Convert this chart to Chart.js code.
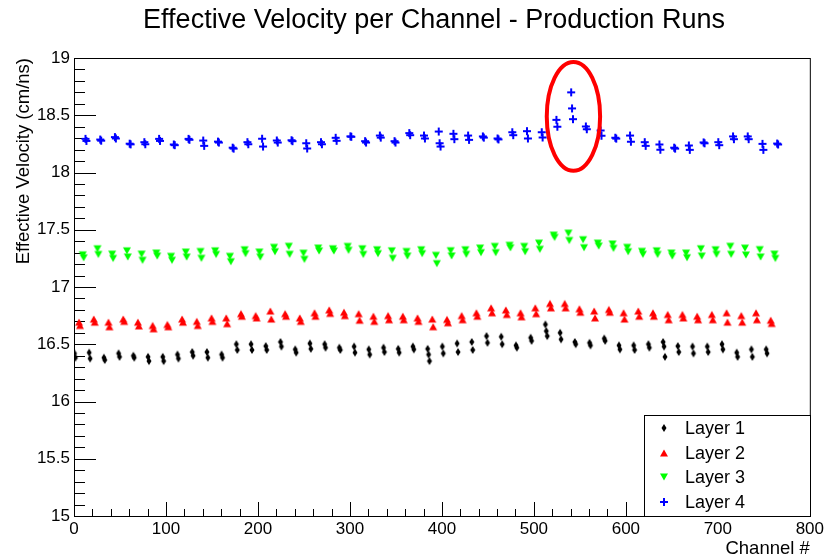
<!DOCTYPE html>
<html>
<head>
<meta charset="utf-8">
<title>Effective Velocity per Channel</title>
<script src="https://cdn.jsdelivr.net/npm/chart.js@4.4.1/dist/chart.umd.min.js"></script>
<style>
  html, body { margin: 0; padding: 0; background: #fff; }
  #wrap { width: 827px; height: 560px; }
</style>
</head>
<body>
<div id="wrap"><canvas id="velChart" width="827" height="560"></canvas></div>
<script>
// first channel of each group of 16
const channelGroups = [0, 16, 32, 48, 64, 80, 96, 112, 128, 144, 160, 176, 192, 208, 224, 240,
    256, 272, 288, 304, 320, 336, 352, 368, 384, 400, 416, 432, 448, 464, 480, 496,
    512, 528, 544, 560, 576, 592, 608, 624, 640, 656, 672, 688, 704, 720, 736, 752];

const layerNames = ['Layer 1', 'Layer 2', 'Layer 3', 'Layer 4'];
const layerOffsets = [0.5, 5.5, 9.5, 12.5];

// effective velocity (cm/ns), one list of runs per channel group
const layer1 = [
    [16.42, 16.383], [16.427, 16.375], [16.383, 16.362], [16.42, 16.39], [16.40, 16.383],
    [16.39, 16.353], [16.39, 16.353], [16.41, 16.375], [16.432, 16.40], [16.432, 16.383],
    [16.41, 16.383], [16.50, 16.45], [16.50, 16.45], [16.484, 16.45], [16.52, 16.48],
    [16.455, 16.427], [16.507, 16.46], [16.50, 16.47], [16.47, 16.45], [16.48, 16.427],
    [16.455, 16.41], [16.47, 16.432], [16.46, 16.427], [16.48, 16.455], [16.46, 16.41, 16.353],
    [16.48, 16.42], [16.507, 16.432], [16.52, 16.45], [16.571, 16.513], [16.566, 16.50],
    [16.49, 16.47], [16.557, 16.53], [16.673, 16.615, 16.571], [16.60, 16.543], [16.52, 16.50],
    [16.513, 16.49], [16.55, 16.53], [16.49, 16.455], [16.49, 16.45], [16.50, 16.47],
    [16.52, 16.48, 16.39], [16.484, 16.432], [16.48, 16.42], [16.48, 16.432], [16.50, 16.455],
    [16.427, 16.39], [16.455, 16.39], [16.455, 16.42]
];
const layer2 = [
    [16.693, 16.664], [16.72, 16.693], [16.693, 16.653], [16.72, 16.70], [16.693, 16.66],
    [16.664, 16.635], [16.673, 16.653], [16.72, 16.693], [16.70, 16.664], [16.73, 16.70],
    [16.73, 16.68], [16.767, 16.745], [16.75, 16.73], [16.79, 16.72], [16.767, 16.745],
    [16.73, 16.70], [16.775, 16.745], [16.80, 16.77], [16.78, 16.75], [16.767, 16.71],
    [16.745, 16.70], [16.75, 16.714], [16.745, 16.714], [16.73, 16.70], [16.72, 16.653],
    [16.717, 16.688], [16.75, 16.714], [16.775, 16.745], [16.818, 16.775], [16.80, 16.76],
    [16.775, 16.74], [16.818, 16.767], [16.856, 16.818], [16.856, 16.818], [16.81, 16.78],
    [16.79, 16.73], [16.804, 16.78], [16.775, 16.72], [16.79, 16.745], [16.775, 16.745],
    [16.76, 16.714], [16.76, 16.73], [16.745, 16.714], [16.76, 16.714], [16.775, 16.693],
    [16.75, 16.693], [16.775, 16.714], [16.71, 16.682]
];
const layer3 = [
    [17.281, 17.255], [17.334, 17.284], [17.287, 17.249], [17.316, 17.262], [17.287, 17.233],
    [17.296, 17.27], [17.267, 17.233], [17.305, 17.261], [17.31, 17.25], [17.316, 17.284],
    [17.267, 17.221], [17.325, 17.291], [17.305, 17.261], [17.346, 17.308], [17.355, 17.285],
    [17.295, 17.241], [17.34, 17.314], [17.334, 17.314], [17.354, 17.32], [17.334, 17.284],
    [17.325, 17.291], [17.316, 17.25], [17.31, 17.27], [17.325, 17.291], [17.276, 17.204],
    [17.317, 17.271], [17.325, 17.285], [17.34, 17.30], [17.354, 17.30], [17.364, 17.342],
    [17.354, 17.308], [17.383, 17.329], [17.453, 17.433], [17.47, 17.406], [17.413, 17.343],
    [17.383, 17.357], [17.375, 17.337], [17.346, 17.308], [17.311, 17.285], [17.316, 17.284],
    [17.296, 17.27], [17.296, 17.256], [17.334, 17.27], [17.325, 17.285], [17.355, 17.285],
    [17.339, 17.279], [17.326, 17.262], [17.287, 17.249]
];
const layer4 = [
    [18.294, 18.276], [18.288, 18.278], [18.309, 18.297], [18.252, 18.246], [18.265, 18.247],
    [18.294, 18.276], [18.245, 18.239], [18.294, 18.286], [18.279, 18.233], [18.27, 18.262],
    [18.217, 18.209], [18.265, 18.247], [18.295, 18.227], [18.28, 18.262], [18.282, 18.274],
    [18.256, 18.21], [18.265, 18.247], [18.303, 18.277], [18.316, 18.312], [18.274, 18.262],
    [18.323, 18.305], [18.274, 18.262], [18.344, 18.326], [18.323, 18.297], [18.358, 18.256, 18.227],
    [18.338, 18.291], [18.323, 18.285], [18.315, 18.305], [18.297, 18.289], [18.352, 18.326],
    [18.361, 18.297], [18.352, 18.306], [18.46, 18.40], [18.70, 18.56, 18.466], [18.402, 18.378],
    [18.367, 18.321], [18.304, 18.296], [18.323, 18.269], [18.265, 18.233], [18.245, 18.199],
    [18.217, 18.209], [18.236, 18.198], [18.263, 18.255], [18.265, 18.239], [18.315, 18.291],
    [18.315, 18.291], [18.25, 18.198], [18.253, 18.245]
];

const xTicks = [0, 100, 200, 300, 400, 500, 600, 700, 800];
const yTicks = [15, 15.5, 16, 16.5, 17, 17.5, 18, 18.5, 19];

// ring around the layer 4 excursion: centre and half-axes in data units
const ringCentre = { x: 543, y: 18.49 };
const ringHalf = { x: 29, y: 0.475 };

const FONT = '"Liberation Sans", Arial, Helvetica, sans-serif';

// small marker images, drawn centred on each point
function makeMarker(shape, color) {
    const c = document.createElement('canvas');
    c.width = 10;
    c.height = 10;
    const g = c.getContext('2d');
    g.fillStyle = color;
    g.beginPath();
    if (shape === 'diamond') {
        g.moveTo(5, 1); g.lineTo(7.5, 5); g.lineTo(5, 9); g.lineTo(2.5, 5);
    } else if (shape === 'up') {
        g.moveTo(5, 1.5); g.lineTo(9, 8.5); g.lineTo(1, 8.5);
    } else if (shape === 'down') {
        g.moveTo(1, 1.5); g.lineTo(9, 1.5); g.lineTo(5, 8.5);
    } else {
        g.rect(1, 4, 8, 2);
        g.rect(4, 1, 2, 8);
    }
    g.closePath();
    g.fill();
    return c;
}

const markers = [
    makeMarker('diamond', '#000000'),
    makeMarker('up', '#ff0000'),
    makeMarker('down', '#00ff00'),
    makeMarker('cross', '#0000ff')
];

function toPoints(layer, offset) {
    const pts = [];
    layer.forEach((runs, i) => {
        runs.forEach((v, j) => pts.push({ x: channelGroups[i] + offset + j, y: v }));
    });
    return pts;
}

const datasets = [layer1, layer2, layer3, layer4].map((layer, i) => ({
    label: layerNames[i],
    data: toPoints(layer, layerOffsets[i]),
    pointStyle: markers[i],
    pointRadius: 5,
    showLine: false
}));

// frame, inward tick marks, title, ring and boxed legend
const frameAndText = {
    id: 'frameAndText',
    beforeDatasetsDraw(chart) {
        const { ctx, chartArea: a, scales: { x, y } } = chart;
        ctx.save();
        ctx.strokeStyle = '#000';
        ctx.lineWidth = 1;
        ctx.beginPath();
        for (let i = 0; i <= 40; i++) {
            const px = Math.round(x.getPixelForValue(i * 20)) + 0.5;
            const len = i % 5 === 0 ? 14 : 7;
            ctx.moveTo(px, a.bottom);
            ctx.lineTo(px, a.bottom - len);
        }
        for (let i = 0; i <= 40; i++) {
            const py = Math.round(y.getPixelForValue(15 + i * 0.1)) + 0.5;
            const len = i % 5 === 0 ? 22 : 11;
            ctx.moveTo(a.left, py);
            ctx.lineTo(a.left + len, py);
        }
        ctx.stroke();
        ctx.strokeRect(a.left + 0.5, a.top + 0.5, a.right - a.left, a.bottom - a.top);
        ctx.restore();
    },
    afterDraw(chart) {
        const { ctx, scales: { x, y } } = chart;
        ctx.save();

        // red ring
        const cx = x.getPixelForValue(ringCentre.x);
        const cy = y.getPixelForValue(ringCentre.y);
        const rx = x.getPixelForValue(ringCentre.x + ringHalf.x) - cx;
        const ry = cy - y.getPixelForValue(ringCentre.y + ringHalf.y);
        ctx.strokeStyle = '#ff0000';
        ctx.lineWidth = 4;
        ctx.beginPath();
        ctx.ellipse(cx, cy, rx, ry, 0, 0, Math.PI * 2);
        ctx.stroke();

        ctx.fillStyle = '#000';
        ctx.font = '27px ' + FONT;
        ctx.textAlign = 'center';
        ctx.textBaseline = 'middle';
        ctx.fillText('Effective Velocity per Channel - Production Runs', 434, 21);

        // legend box
        const bx = 644, by = 415, bw = 166, bh = 101;
        ctx.fillStyle = '#fff';
        ctx.fillRect(bx, by, bw, bh);
        ctx.strokeStyle = '#000';
        ctx.lineWidth = 1;
        ctx.strokeRect(bx + 0.5, by + 0.5, bw, bh);
        ctx.font = '18px ' + FONT;
        ctx.textAlign = 'left';
        ctx.fillStyle = '#000';
        chart.data.datasets.forEach((ds, i) => {
            const ly = 428 + i * 24.7;
            ctx.drawImage(ds.pointStyle, 659, Math.round(ly) - 5);
            ctx.fillText(ds.label, 685, ly + 1);
        });
        ctx.restore();
    }
};

new Chart(document.getElementById('velChart'), {
    type: 'scatter',
    data: { datasets: datasets },
    options: {
        responsive: false,
        animation: false,
        devicePixelRatio: 1,
        layout: { padding: { left: 0, top: 58, right: 17, bottom: 0 } },
        plugins: {
            legend: { display: false },
            title: { display: false },
            tooltip: { enabled: false }
        },
        scales: {
            x: {
                type: 'linear',
                min: 0,
                max: 800,
                afterBuildTicks: s => { s.ticks = xTicks.map(v => ({ value: v })); },
                afterFit: s => { s.height = 44; },
                grid: { display: false, drawTicks: false },
                border: { display: false },
                ticks: {
                    autoSkip: false,
                    maxRotation: 0,
                    padding: 3,
                    color: '#000',
                    font: { family: FONT, size: 17 },
                    callback: v => String(v)
                },
                title: {
                    display: true,
                    text: 'Channel #',
                    align: 'end',
                    color: '#000',
                    font: { family: FONT, size: 18.5 },
                    padding: { top: 0, bottom: 0 }
                }
            },
            y: {
                type: 'linear',
                min: 15,
                max: 19,
                afterBuildTicks: s => { s.ticks = yTicks.map(v => ({ value: v })); },
                afterFit: s => { s.width = 74; },
                grid: { display: false, drawTicks: false },
                border: { display: false },
                ticks: {
                    autoSkip: false,
                    padding: 4,
                    color: '#000',
                    font: { family: FONT, size: 17 },
                    callback: v => String(v)
                },
                title: {
                    display: true,
                    text: 'Effective Velocity (cm/ns)',
                    align: 'end',
                    color: '#000',
                    font: { family: FONT, size: 18.5 },
                    padding: { top: 13, bottom: 0 }
                }
            }
        }
    },
    plugins: [frameAndText]
});
</script>
</body>
</html>
